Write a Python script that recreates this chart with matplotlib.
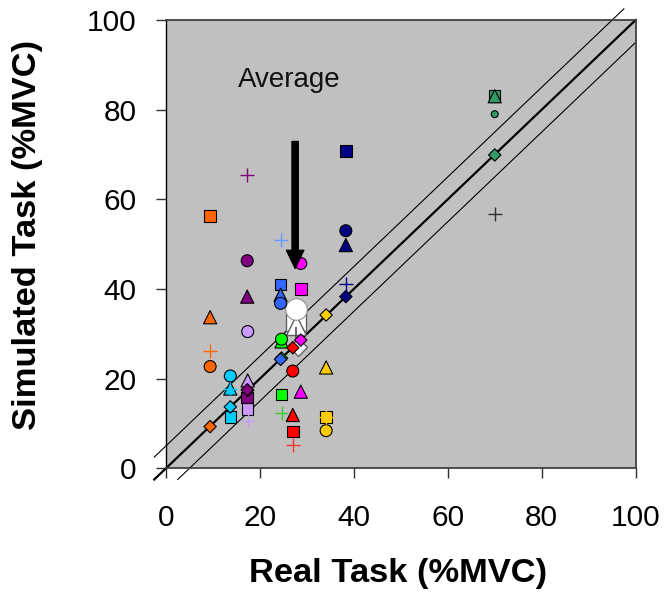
import numpy as np
import matplotlib
matplotlib.use("Agg")
import matplotlib.pyplot as plt

plt.rcParams['font.family'] = ['Liberation Sans', 'DejaVu Sans']

# ---- data ----
task_colors = ['#FF6600', '#00CCFF', '#CC99FF', '#800080', '#00FF00', '#3366FF',
               '#FF0000', '#FF00FF', '#FFCC00', '#000080', '#339966']
real_task = [9.4, 13.7, 17.4, 17.3, 24.6, 24.4, 27.0, 28.7, 34.1, 38.3, 70.0]
sim_square = [56.3, 11.4, 13.2, 15.8, 16.5, 41.0, 8.2, 40.0, 11.5, 70.8, 83.0]
sim_triangle = [33.7, 17.8, 19.6, 38.3, 28.3, 38.7, 11.9, 17.1, 22.5, 49.8, 83.0]
sim_circle = [22.7, 20.6, 30.5, 46.3, 28.8, 36.8, 21.7, 45.7, 8.4, 53.0, 79.0]
sim_diamond = [9.3, 13.7, 17.4, 17.5, 24.6, 24.3, 26.9, 28.6, 34.2, 38.3, 69.9]
sim_plus = [26.2, 17.8, 10.6, 65.4, 12.3, 50.9, 5.2, np.nan, 11.5, 41.1, 56.7]
plus_colors = ['#FF6600', '#00CCFF', '#CC99FF', '#800080', '#33CC33', '#6699FF',
               '#FF3333', '#FF00FF', '#FFCC00', '#000080', '#333333']

avg_real = 27.7
avg_square = 32.8
avg_triangle = 32.0
avg_circle = 35.6
avg_diamond = 27.0
avg_plus = 30.0

arrow_start = (27.5, 72.9)
arrow_end = (27.5, 44.6)
ticks = [0, 20, 40, 60, 80, 100]

# ---- figure ----
fig = plt.figure(figsize=(6.66, 5.94), dpi=100)
ax = fig.add_axes([0.2492, 0.2116, 0.7052, 0.7547])
ax.set_facecolor('#C0C0C0')
ax.set_xlim(0, 100)
ax.set_ylim(0, 100)

# identity line and +/-5 band
lx = np.array([-2.5, 100.0])
ax.plot(lx, lx, color='black', lw=1.6, clip_on=False, zorder=2)
ux = np.array([-2.5, 97.5])
ax.plot(ux, ux + 5, color='black', lw=0.8, clip_on=False, zorder=2)
dx = np.array([2.5, 100.0])
ax.plot(dx, dx - 5, color='black', lw=0.8, clip_on=False, zorder=2)

# averages (white)
ax.plot([avg_real], [avg_square], 's', ms=15, mfc='white', mec='#606060', mew=1.0, zorder=3)
ax.plot([avg_real], [avg_triangle], '^', ms=15, mfc='white', mec='#606060', mew=1.0, zorder=3)
ax.plot([avg_real], [avg_circle], 'o', ms=15.5, mfc='white', mec='#909090', mew=0.8, zorder=3)
ax.plot([avg_real + 0.4], [avg_diamond], 'D', ms=9.5, mfc='white', mec='#606060', mew=1.0, zorder=3)
ax.plot([avg_real], [avg_plus], '|', ms=10, color='#505050', mew=1.2, zorder=3)

# task markers
ax.scatter(real_task, sim_square, marker='s', s=8.3**2, c=task_colors,
           edgecolors='black', linewidths=0.8, zorder=4)
ax.scatter(real_task, sim_triangle, marker='^', s=9.5**2, c=task_colors,
           edgecolors='black', linewidths=0.8, zorder=4)
circle_sizes = [8.6**2] * (len(real_task) - 1) + [5.0**2]
ax.scatter(real_task, sim_circle, marker='o', s=circle_sizes, c=task_colors,
           edgecolors='black', linewidths=0.8, zorder=4)
ax.scatter(real_task, sim_diamond, marker='D', s=6.3**2, c=task_colors,
           edgecolors='black', linewidths=0.8, zorder=4)
ax.scatter(real_task, sim_plus, marker='+', s=10**2, c=plus_colors,
           linewidths=1.0, zorder=4)

# arrow + label
ax.annotate('', xy=arrow_end, xytext=arrow_start,
            arrowprops=dict(width=4.5, headwidth=12.5, headlength=13,
                            facecolor='black', edgecolor='black', shrink=0),
            zorder=5)
ax.text(15.3, 85.0, 'Average', fontsize=20, ha='left', va='baseline', color='#111111')

# axes styling
ax.set_xticks(ticks)
ax.set_yticks(ticks)
ax.tick_params(axis='both', direction='out', length=7, width=1.0, color='#303030',
               labelsize=21.5)
ax.tick_params(axis='y', pad=14)
ax.tick_params(axis='x', pad=19)
for side in ['top', 'right', 'bottom']:
    ax.spines[side].set_color('#404040')
    ax.spines[side].set_linewidth(1.3)
ax.spines['left'].set_color('black')
ax.spines['left'].set_linewidth(1.0)

ax.set_xlabel('Real Task (%MVC)', fontsize=24.8, fontweight='bold')
ax.set_ylabel('Simulated Task (%MVC)', fontsize=24.8, fontweight='bold')
ax.xaxis.set_label_coords(0.495, -0.234)
ax.xaxis.label.set_va('center')
ax.yaxis.set_label_coords(-0.295, 0.52)
ax.yaxis.label.set_va('center')

fig.savefig('out.png', dpi=100)
